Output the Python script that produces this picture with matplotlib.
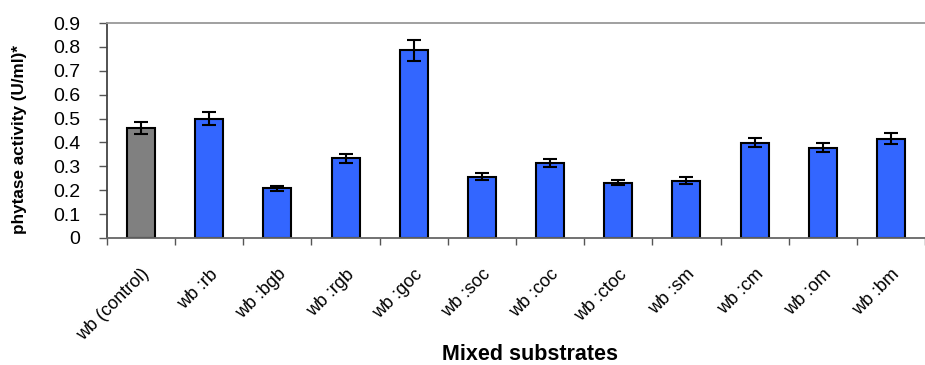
import numpy as np
import matplotlib
matplotlib.use("Agg")
import matplotlib.pyplot as plt
from matplotlib.transforms import ScaledTranslation

plt.rcParams["font.family"] = ["Liberation Sans", "DejaVu Sans"]

categories = ["wb (control)", "wb :rb", "wb :bgb", "wb :rgb", "wb :goc", "wb :soc",
              "wb :coc", "wb :ctoc", "wb :sm", "wb :cm", "wb :om", "wb :bm"]
activity = [0.46, 0.50, 0.208, 0.333, 0.785, 0.257, 0.313, 0.231, 0.240, 0.399, 0.378, 0.416]
errors = [0.025, 0.026, 0.010, 0.018, 0.042, 0.014, 0.016, 0.011, 0.014, 0.020, 0.020, 0.022]
yticks = [0, 0.1, 0.2, 0.3, 0.4, 0.5, 0.6, 0.7, 0.8, 0.9]

colors = ["#808080"] + ["#3366FF"] * (len(categories) - 1)

fig = plt.figure(figsize=(9.25, 3.65), dpi=100)
ax = fig.add_axes([107 / 925, 1 - 238 / 365, 1 - 107 / 925, 215 / 365])

x = np.arange(len(categories))
ax.bar(x, activity, width=0.41, color=colors, edgecolor="black", linewidth=1.5, zorder=2)
ax.errorbar(x, activity, yerr=errors, fmt="none", ecolor="black", elinewidth=1.5,
            capsize=5, capthick=1.5, zorder=3)

ax.set_xlim(-0.5, 11.3)
ax.set_ylim(0, 0.9)
ax.set_yticks(yticks)
ax.set_yticklabels([f"{v:g}" for v in yticks], fontsize=14)

# boundary ticks (major) and labels at centres (minor)
ax.set_xticks(np.arange(-0.5, 12, 1))
ax.set_xticklabels([])
ax.set_xticks(x, minor=True)
ax.set_xticklabels(categories, minor=True, rotation=45, ha="right",
                   rotation_mode="anchor", fontsize=13)
shift = ScaledTranslation(4 / 100, 0, fig.dpi_scale_trans)
for lab in ax.get_xticklabels(minor=True):
    lab.set_transform(lab.get_transform() + shift)
ax.tick_params(axis="x", which="minor", length=0, pad=20)
ax.tick_params(axis="x", which="major", length=5, color="#555555", width=1)
ax.tick_params(axis="y", length=6, color="#555555", width=1, pad=13)

ax.spines["right"].set_visible(False)
ax.spines["left"].set_color("#444444")
ax.spines["bottom"].set_color("#666666")
ax.spines["top"].set_color("#999999")
for s in ["left", "bottom", "top"]:
    ax.spines[s].set_linewidth(1.3)

fig.text(20 / 925, 1 - 140 / 365, "phytase activity (U/ml)*", fontsize=12.3, fontweight="bold",
         rotation=90, ha="center", va="center")
fig.text(530 / 925, 1 - 355 / 365, "Mixed substrates", fontsize=15.5, fontweight="bold",
         ha="center", va="center")

fig.savefig("out.png", dpi=100)
